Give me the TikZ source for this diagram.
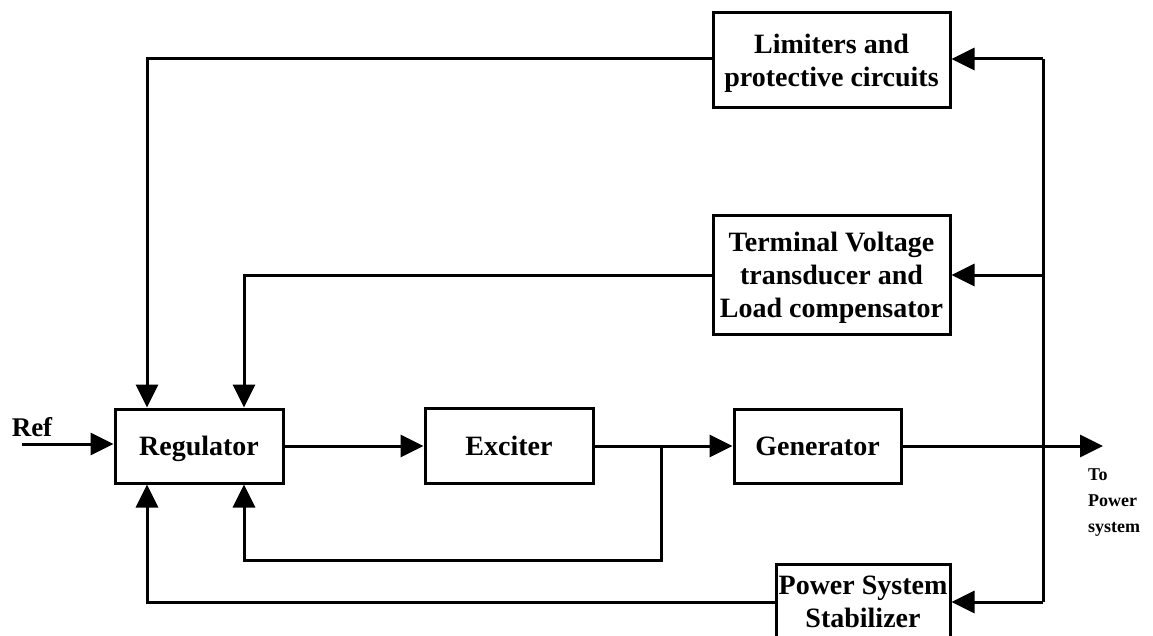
\documentclass[tikz,border=0pt]{standalone}
\usepackage{fontspec}
\setmainfont{Liberation Serif}
\usetikzlibrary{arrows.meta}
\tikzset{
  blk/.style={draw, line width=3pt, inner sep=0pt, align=center, text depth=0pt,
    font=\fontsize{28}{33}\selectfont\bfseries},
  wire/.style={line width=3pt},
  arr/.style={wire, -{Triangle[length=23pt,width=22pt]}},
  lbl/.style={inner sep=0pt, font=\fontsize{27}{32}\selectfont\bfseries},
  small/.style={inner sep=0pt, align=left, font=\fontsize{18}{26}\selectfont\bfseries}
}
\begin{document}
\begin{tikzpicture}[x=1pt,y=-1pt]
\useasboundingbox (0,0) rectangle (1153,636);
% blocks
\node[blk, minimum width=168pt, minimum height=74pt] (reg) at (199,446) {Regulator};
\node[blk, minimum width=168pt, minimum height=75pt] (exc) at (509,446) {Exciter};
\node[blk, minimum width=167pt, minimum height=74pt] (gen) at (817.5,446) {Generator};
\node[blk, minimum width=237pt, minimum height=95pt] (lim) at (831.5,60) {Limiters and\\protective circuits};
\node[blk, minimum width=237pt, minimum height=118pt] (tvt) at (831.5,275) {Terminal Voltage\\transducer and\\Load compensator};
\node[blk, minimum width=174pt, minimum height=76pt] (pss) at (863,602) {Power System\\Stabilizer};
% labels
\node[lbl] (reflbl) at (32,427) {Ref};
\node[small, anchor=north west] (tolbl) at (1088,469) {To\\Power\\system};
% coordinates
\coordinate (refin) at (22,444);
\coordinate (j) at (661,446);
\coordinate (out) at (1103,446);
\coordinate (bustop) at (1043,59);
\coordinate (busmid) at (1043,275);
\coordinate (busbot) at (1043,602);
\coordinate (c1) at (147,59);
\coordinate (c2) at (244,275);
\coordinate (c3) at (661,560);
\coordinate (c4) at (244,560);
\coordinate (c5) at (147,602);
% forward path
\draw[arr] (refin) -- (refin -| reg.west);
\draw[arr] (reg.east) -- (exc.west);
\draw[wire] (exc.east) -- (j);
\draw[arr] (j) -- (gen.west);
\draw[arr] (gen.east) -- (out);
% bus
\draw[wire] (bustop) -- (busbot);
\draw[arr] (bustop) -- (bustop -| lim.east);
\draw[arr] (busmid) -- (tvt.east);
\draw[arr] (busbot) -- (pss.east);
% feedbacks
\draw[arr] (c1 -| lim.west) -- (c1) -- (c1 |- reg.north);
\draw[arr] (tvt.west) -- (c2) -- (c2 |- reg.north);
\draw[arr] (j) -- (c3) -- (c4) -- (c4 |- reg.south);
\draw[arr] (pss.west) -- (c5) -- (c5 |- reg.south);
\end{tikzpicture}
\end{document}
